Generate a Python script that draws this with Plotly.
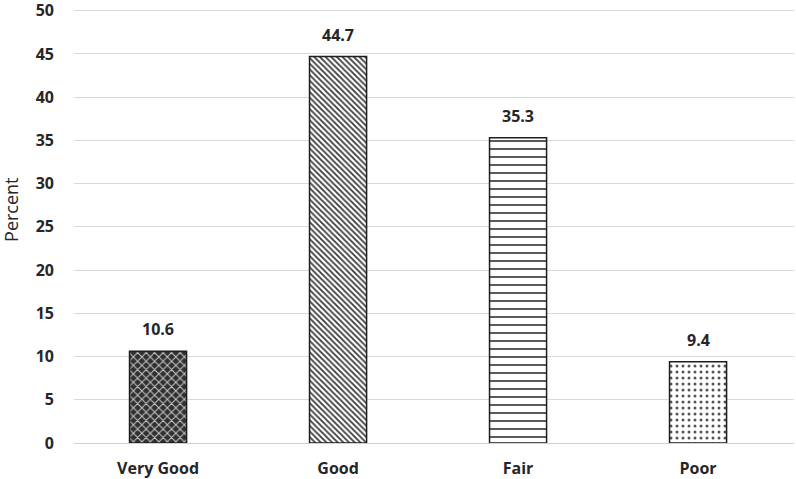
import plotly.graph_objects as go

categories = ["Very Good", "Good", "Fair", "Poor"]
values = [10.6, 44.7, 35.3, 9.4]
y_ticks = [0, 5, 10, 15, 20, 25, 30, 35, 40, 45, 50]

patterns = [
    dict(shape="x", bgcolor="#303030", fgcolor="#c8c8c8", size=6, solidity=0.3, fillmode="replace"),
    dict(shape="\\", bgcolor="white", fgcolor="#3a3a3a", size=4, solidity=0.45, fillmode="replace"),
    dict(shape="-", bgcolor="white", fgcolor="#303030", size=8, solidity=0.2, fillmode="replace"),
    dict(shape=".", bgcolor="white", fgcolor="#555555", size=6, solidity=0.2, fillmode="replace"),
]

fig = go.Figure()
for i, (c, v) in enumerate(zip(categories, values)):
    fig.add_trace(go.Bar(
        x=[c], y=[v], width=0.317,
        marker=dict(color="white", pattern=patterns[i],
                    line=dict(color="#1e1e1e", width=1.5)),
        showlegend=False, hoverinfo="skip",
    ))

for c, v in zip(categories, values):
    fig.add_annotation(x=c, y=v, text=f"{v:.1f}", showarrow=False,
                       yshift=22, font=dict(family="Open Sans", size=16, weight="bold", color="#262626"))

fig.add_annotation(xref="paper", yref="paper", x=-0.0875, y=0.537, xanchor="center", yanchor="middle",
                   text="Percent", textangle=-90, showarrow=False,
                   font=dict(family="Open Sans", size=18, color="#262626"))

fig.update_layout(
    width=796, height=479,
    margin=dict(l=74, r=2, t=9, b=36),
    plot_bgcolor="white", paper_bgcolor="white",
    barmode="overlay",
    font=dict(family="Open Sans", color="#262626"),
    xaxis=dict(type="category", categoryorder="array", categoryarray=categories,
               range=[-0.467, 3.533], showgrid=False, zeroline=False,
               showline=False, ticks="", automargin=False, ticklabelstandoff=14,
               tickfont=dict(size=16, family="Open Sans", weight="bold", color="#262626")),
    yaxis=dict(range=[0, 50.2], tickvals=y_ticks, showgrid=True, gridcolor="#d9d9d9",
               gridwidth=1, zeroline=True, zerolinecolor="#d0d0d0", zerolinewidth=1,
               showline=False, ticks="", ticklabelstandoff=19, automargin=False,
               ticklabeloverflow="allow",
               tickfont=dict(size=16, family="Open Sans", weight="bold", color="#262626")),
)

fig.write_html("out.html", post_script="document.body.style.margin='0';",
               config={"displayModeBar": False})
